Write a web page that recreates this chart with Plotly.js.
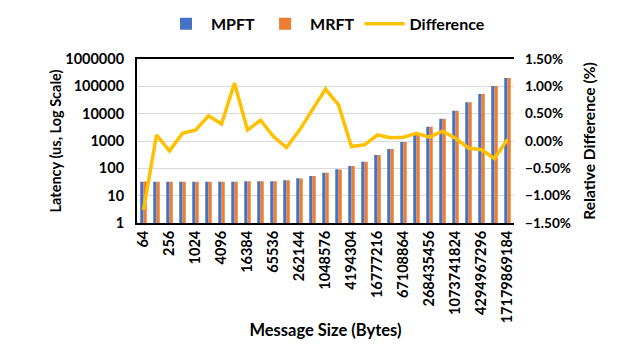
<!DOCTYPE html>
<html><head><meta charset="utf-8">
<script src="https://cdn.plot.ly/plotly-3.0.1.min.js"></script>
<style>body{margin:0;background:#fff}#c{width:644px;height:356px}</style>
</head><body><div id="c"></div>
<script>
const sizes = ["64","128","256","512","1024","2048","4096","8192","16384","32768","65536","131072","262144","524288","1048576","2097152","4194304","8388608","16777216","33554432","67108864","134217728","268435456","536870912","1073741824","2147483648","4294967296","8589934592","17179869184"];
const mpft = [32.5,32.5,32.5,32.5,32.5,32.5,32.5,32.5,33.5,34,34,36.5,43,52.5,69,92,122,175,308,510,920,1660,3340,6560,12850,26000,52500,103000,202000];
const mrft = [32.9,32.5,32.6,32.5,32.4,32.4,32.4,32.2,33.4,33.9,34,36.5,42.9,52.2,68.3,91.4,122.1,175.1,307.7,509.7,919.4,1657.7,3337.7,6548,12841,26034,52594,103310,201960];
const diffPct = [-1.26,0.11,-0.18,0.14,0.20,0.46,0.31,1.06,0.20,0.38,0.08,-0.12,0.20,0.57,0.95,0.66,-0.10,-0.07,0.11,0.06,0.07,0.14,0.07,0.18,0.05,-0.13,-0.16,-0.32,0.03];
const yTicks = [1,10,100,1000,10000,100000,1000000];
const yTickText = ["1","10","100","1000","10000","100000","1000000"];
const xTickVals = sizes.filter((s,i)=>i%2===0);

const F = "Lato, 'Open Sans', sans-serif";
const data = [
  {type:'bar', name:'MPFT', x:sizes, y:mpft, marker:{color:'#4472C4'}},
  {type:'bar', name:'MRFT', x:sizes, y:mrft, marker:{color:'#ED7D31'}},
  {type:'scatter', mode:'lines', name:'Difference', x:sizes, y:diffPct.map(v=>v/100), yaxis:'y2',
   line:{color:'#FFC000', width:3.5}}
];
const layout = {
  width:644, height:356,
  margin:{l:137, r:130, t:59, b:133, autoexpand:false},
  paper_bgcolor:'#fff', plot_bgcolor:'#fff',
  font:{family:F, color:'#000', size:14, weight:700},
  barmode:'group', bargap:0.5, bargroupgap:0,
  showlegend:true,
  legend:{orientation:'h', x:0.5, xanchor:'center', y:1.215, yanchor:'middle',
          font:{size:16, family:F, weight:700}, itemwidth:40, traceorder:'normal'},
  xaxis:{type:'category', tickvals:xTickVals, ticktext:xTickVals, tickangle:-90, automargin:false,
         showline:true, linecolor:'#000', linewidth:2, mirror:true, ticks:'',
         tickfont:{size:14.5, family:F, weight:700},
         title:{text:'Message Size (Bytes)', font:{size:16.5, family:F, weight:700}, standoff:2}},
  yaxis:{type:'log', range:[0,6], tickvals:yTicks, ticktext:yTickText, automargin:false,
         showgrid:true, gridcolor:'#d9d9d9', gridwidth:1, zeroline:false,
         showline:true, linecolor:'#000', linewidth:2, ticks:'',
         tickfont:{size:14.5, family:F, weight:700}, ticklabelstandoff:8,
         title:{text:'Latency (us, Log Scale)', font:{size:14.5, family:F, weight:700}, standoff:0}},
  yaxis2:{overlaying:'y', side:'right', range:[-0.015,0.015], dtick:0.005, tick0:-0.015, automargin:false,
          tickformat:'.2%', showgrid:false, zeroline:false, ticks:'',
          tickfont:{size:13.6, family:F, weight:700}, ticklabelstandoff:10,
          title:{text:'Relative Difference (%)', font:{size:15.6, family:F, weight:700}, standoff:14}}
};
Plotly.newPlot('c', data, layout, {displayModeBar:false, staticPlot:true});
</script></body></html>
